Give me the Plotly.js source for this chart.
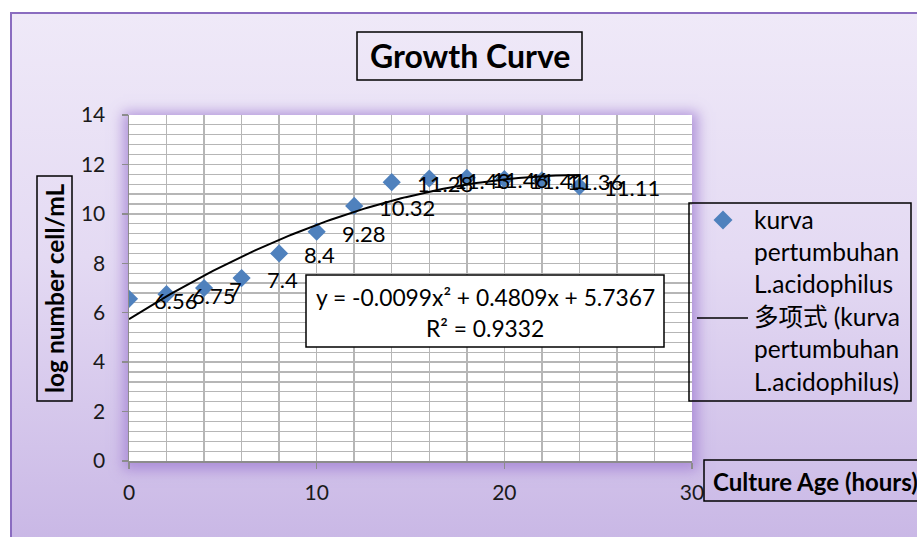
<!DOCTYPE html>
<html>
<head>
<meta charset="utf-8">
<script src="https://cdn.plot.ly/plotly-3.0.1.min.js"></script>
<style>
  html, body { margin: 0; padding: 0; background: #ffffff; width: 917px; height: 537px; overflow: hidden; }
  #bg { position: absolute; left: 10px; top: 12px; width: 920px; height: 540px;
        border-left: 2px solid #8a6cc0; border-top: 2px solid #8a6cc0;
        background: linear-gradient(to bottom, #efe9f8 0%, #e4daf3 45%, #c8b6e5 100%); }
  #glow { position: absolute; left: 129px; top: 115px; width: 563px; height: 346px;
          box-shadow: 0 3px 12px 6px rgba(160, 125, 210, 0.75); background: #ffffff; }
  #plot { position: absolute; left: 0; top: 0; width: 917px; height: 537px; }
</style>
</head>
<body>
<div id="bg"></div>
<div id="glow"></div>
<div id="plot"></div>
<script>
// ---- data ----
const cultureHours = [0, 2, 4, 6, 8, 10, 12, 14, 16, 18, 20, 22, 24];
const logCells = [6.56, 6.75, 7, 7.4, 8.4, 9.28, 10.32, 11.28, 11.43, 11.46, 11.41, 11.36, 11.11];
const pointLabels = ['6.56', '6.75', '7', '7.4', '8.4', '9.28', '10.32', '11.28', '11.43', '11.46', '11.41', '11.36', '11.11'];
const trendCoef = [-0.0099, 0.4809, 5.7367];   // a*x^2 + b*x + c (shown on chart)
const trendRange = [0, 24];
const xTickVals = [0, 10, 20, 30];
const yTickVals = [0, 2, 4, 6, 8, 10, 12, 14];
const equationLines = ['y = -0.0099x² + 0.4809x + 5.7367', 'R² = 0.9332'];
const legendSeriesLines = ['kurva', 'pertumbuhan', 'L.acidophilus'];
const legendTrendLines = ['多项式 (kurva', 'pertumbuhan', 'L.acidophilus)'];
const chartTitle = 'Growth Curve';
const xTitle = 'Culture Age (hours)';
const yTitle = 'log number cell/mL';

// trendline samples from the displayed polynomial
const trendX = [];
for (let x = trendRange[0]; x <= trendRange[1] + 1e-9; x += 0.25) trendX.push(x);
const trendY = trendX.map(x => trendCoef[0] * x * x + trendCoef[1] * x + trendCoef[2]);

// ---- layout helpers (pixel -> paper) ----
const W = 917, H = 537;
const M = { l: 129, r: 917 - 692, t: 115, b: 537 - 461 };
const PW = W - M.l - M.r, PH = H - M.t - M.b;
const px = x => (x - M.l) / PW;
const py = y => (H - M.b - y) / PH;

const FONT = 'Lato, "Noto Sans CJK SC", sans-serif';
const BLUE = '#4f81bd';
const GRID = '#b6b6b6';

const traces = [
  {
    type: 'scatter', mode: 'markers', x: cultureHours, y: logCells,
    marker: { symbol: 'diamond', size: 14, color: BLUE, line: { width: 0 } },
    hoverinfo: 'skip', showlegend: false
  },
  {
    type: 'scatter', mode: 'lines', x: trendX, y: trendY,
    line: { color: '#000000', width: 2 }, hoverinfo: 'skip', showlegend: false
  }
];

const annotations = [];
// data labels
cultureHours.forEach((x, i) => {
  annotations.push({
    xref: 'x', yref: 'y', x: x, y: logCells[i], text: pointLabels[i],
    xanchor: 'left', yanchor: 'middle', xshift: 23, yshift: -1.5, showarrow: false,
    font: { family: FONT, size: 22, color: '#000000' }
  });
});
// title
annotations.push({ xref: 'paper', yref: 'paper', x: px(470), y: py(56), text: '<b>' + chartTitle + '</b>',
  xanchor: 'center', yanchor: 'middle', showarrow: false, font: { family: FONT, size: 32, color: '#000' } });
// y title
annotations.push({ xref: 'paper', yref: 'paper', x: px(54.5), y: py(288.5), text: '<b>' + yTitle + '</b>',
  textangle: -90, xanchor: 'center', yanchor: 'middle', showarrow: false, font: { family: FONT, size: 24.5, color: '#000' } });
// x title
annotations.push({ xref: 'paper', yref: 'paper', x: px(711), y: py(481), text: '<b>' + xTitle + '</b>',
  xanchor: 'left', yanchor: 'middle', showarrow: false, font: { family: FONT, size: 24, color: '#000' } });
// equation
equationLines.forEach((t, i) => {
  annotations.push({ xref: 'paper', yref: 'paper', x: px(485), y: py(297 + i * 31), text: t,
    xanchor: 'center', yanchor: 'middle', showarrow: false, font: { family: FONT, size: 22.8, color: '#000' } });
});
// legend text
legendSeriesLines.concat(legendTrendLines).forEach((t, i) => {
  annotations.push({ xref: 'paper', yref: 'paper', x: px(752), y: py(219 + i * 32.4), text: t,
    xanchor: 'left', yanchor: 'middle', showarrow: false, font: { family: FONT, size: 24.5, color: '#000' } });
});

const rect = (x0, y0, x1, y1, fill) => ({
  type: 'rect', xref: 'paper', yref: 'paper', x0: px(x0), x1: px(x1), y0: py(y0), y1: py(y1),
  line: { color: '#000000', width: 1.5 }, fillcolor: fill || 'rgba(0,0,0,0)', layer: 'above'
});
const dcx = 723, dcy = 220, dr = 9.5;
const shapes = [
  rect(357, 32, 582, 80),
  rect(37, 176, 72, 401),
  rect(704, 460, 930, 501),
  rect(306, 275, 664, 347, '#ffffff'),
  rect(689, 203, 911, 401),
  { type: 'path', xref: 'paper', yref: 'paper', layer: 'above',
    path: `M ${px(dcx)},${py(dcy - dr)} L ${px(dcx + dr)},${py(dcy)} L ${px(dcx)},${py(dcy + dr)} L ${px(dcx - dr)},${py(dcy)} Z`,
    fillcolor: BLUE, line: { width: 0 } },
  { type: 'line', xref: 'paper', yref: 'paper', layer: 'above',
    x0: px(697), x1: px(748), y0: py(318), y1: py(318), line: { color: '#000', width: 1.5 } }
];

const layout = {
  width: W, height: H, autosize: false,
  margin: M,
  paper_bgcolor: 'rgba(0,0,0,0)', plot_bgcolor: '#ffffff',
  showlegend: false,
  font: { family: FONT, color: '#1a1a1a' },
  xaxis: {
    range: [0, 30], tickvals: xTickVals, ticks: 'outside', ticklen: 6, tickcolor: '#8c8c8c', tickwidth: 1.5,
    showline: true, linecolor: '#8c8c8c', linewidth: 1.5, zeroline: false,
    showgrid: true, gridcolor: GRID, gridwidth: 1.5,
    minor: { dtick: 2, showgrid: true, gridcolor: GRID, gridwidth: 1.5, ticks: '' },
    tickfont: { family: FONT, size: 21, color: '#1a1a1a' }, ticklabelstandoff: 6, fixedrange: true
  },
  yaxis: {
    range: [0, 14], tickvals: yTickVals, ticks: 'outside', ticklen: 6, tickcolor: '#8c8c8c', tickwidth: 1.5,
    showline: true, linecolor: '#8c8c8c', linewidth: 1.5, zeroline: false,
    showgrid: true, gridcolor: GRID, gridwidth: 1.5,
    minor: { dtick: 0.4, showgrid: true, gridcolor: GRID, gridwidth: 1.2, ticks: '' },
    tickfont: { family: FONT, size: 21, color: '#1a1a1a' }, ticklabelstandoff: 12, fixedrange: true
  },
  annotations: annotations,
  shapes: shapes
};

Plotly.newPlot('plot', traces, layout, { displayModeBar: false, staticPlot: true });
</script>
</body>
</html>
